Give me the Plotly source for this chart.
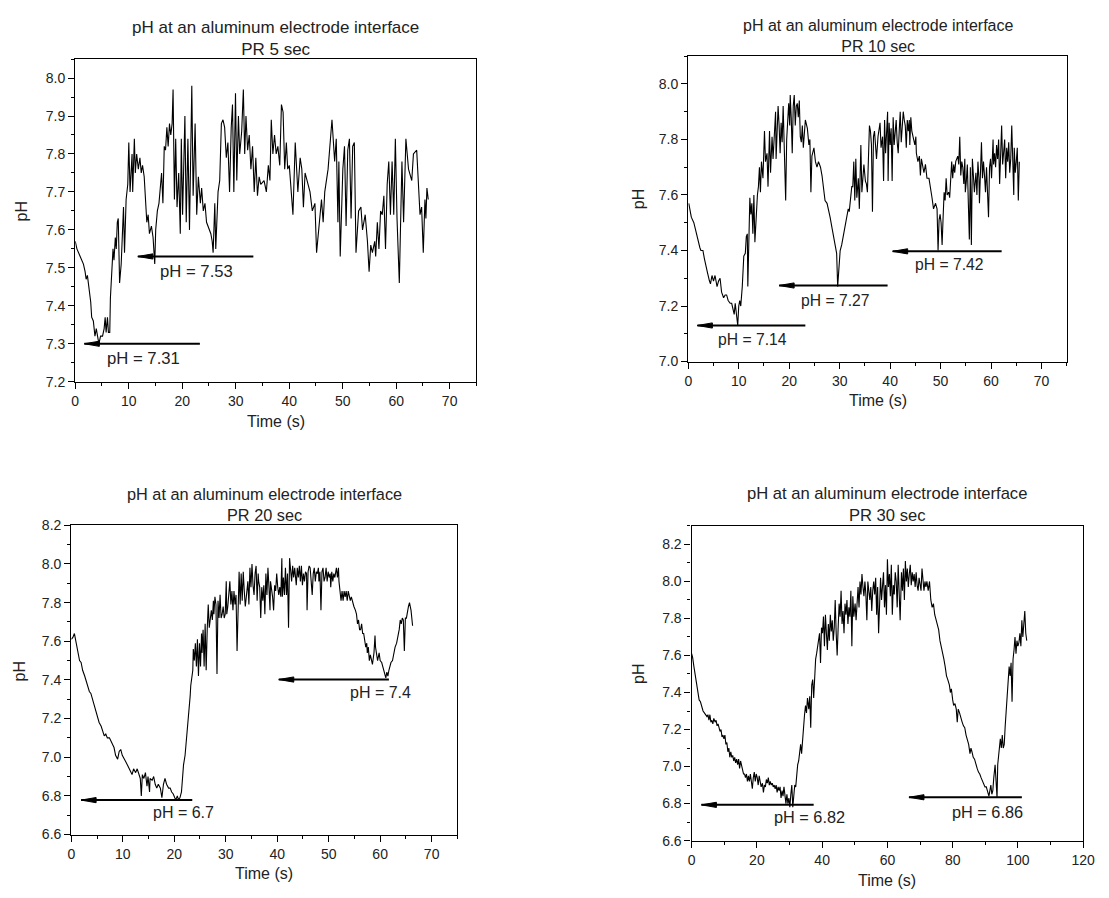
import plotly.graph_objects as go

W, H = 1109, 898
FONT = "Arial, 'Liberation Sans', Helvetica, sans-serif"
TITLE = "pH at an aluminum electrode interface"

# ---------------- PR 5 sec ----------------
t_pr5 = [
    0.00, 0.31, 0.92, 1.53, 1.84, 2.03, 2.27, 2.64, 2.89, 3.07,
    3.38, 3.68, 3.93, 4.17, 4.42, 4.73, 5.10, 5.40, 5.59, 5.77,
    6.02, 6.20, 6.45, 6.57, 6.81, 7.06, 7.24, 7.49, 7.67, 7.86,
    8.04, 8.29, 8.59, 8.78, 9.02, 9.21, 9.51, 9.82, 10.01, 10.25,
    10.62, 10.74, 11.05, 11.23, 11.48, 11.79, 12.09, 12.34, 12.58, 12.89,
    13.20, 13.38, 13.63, 13.87, 14.24, 14.55, 14.86, 15.04, 15.35, 15.65,
    16.14, 16.39, 16.64, 16.88, 17.13, 17.37, 17.62, 17.86, 18.11, 18.29,
    18.54, 18.78, 19.03, 19.34, 19.64, 19.83, 20.07, 20.50, 20.75, 21.06,
    21.36, 21.79, 22.04, 22.41, 22.71, 23.02, 23.39, 23.63, 23.94, 24.25,
    24.55, 24.86, 25.35, 25.60, 25.78, 26.09, 26.27, 26.70, 27.01, 27.32,
    27.62, 27.93, 28.24, 28.54, 28.85, 29.16, 29.40, 29.65, 29.96, 30.20,
    30.51, 30.75, 31.12, 31.43, 31.68, 31.92, 32.23, 32.53, 32.84, 33.15,
    33.46, 33.76, 34.07, 34.38, 34.68, 35.30, 35.73, 36.10, 36.40, 36.65,
    36.95, 37.26, 37.57, 37.88, 38.24, 38.55, 38.86, 39.16, 39.47, 39.72,
    40.02, 40.70, 41.13, 41.62, 42.05, 42.36, 42.66, 42.97, 43.59, 43.89,
    44.32, 44.81, 45.12, 45.73, 46.04, 46.35, 46.65, 47.27, 47.57, 48.00,
    48.50, 48.80, 49.11, 49.29, 49.54, 50.03, 50.34, 50.64, 50.95, 51.26,
    51.57, 51.87, 52.18, 52.49, 52.98, 53.41, 53.71, 54.21, 54.63, 54.94,
    55.25, 55.56, 55.99, 56.17, 56.48, 56.78, 57.09, 57.40, 57.70, 58.01,
    58.32, 58.62, 58.93, 59.24, 59.55, 59.85, 60.16, 60.59, 61.08, 61.39,
    61.82, 62.31, 62.92, 63.23, 63.84, 64.15, 64.46, 64.76, 65.07, 65.38,
    65.56, 65.75, 66.00,
]
ph_pr5 = [
    7.57, 7.55, 7.53, 7.51, 7.49, 7.47, 7.48, 7.44, 7.41, 7.37,
    7.36, 7.32, 7.34, 7.32, 7.30, 7.32, 7.32, 7.34, 7.37, 7.33,
    7.37, 7.33, 7.33, 7.42, 7.47, 7.55, 7.52, 7.58, 7.55, 7.62,
    7.63, 7.46, 7.51, 7.59, 7.66, 7.54, 7.68, 7.72, 7.83, 7.70,
    7.80, 7.70, 7.84, 7.75, 7.80, 7.76, 7.79, 7.75, 7.77, 7.74,
    7.68, 7.62, 7.64, 7.59, 7.61, 7.58, 7.51, 7.60, 7.65, 7.67,
    7.75, 7.67, 7.82, 7.81, 7.87, 7.82, 7.88, 7.85, 7.88, 7.97,
    7.68, 7.84, 7.66, 7.75, 7.59, 7.84, 7.64, 7.90, 7.62, 7.84,
    7.60, 7.98, 7.69, 7.88, 7.64, 7.74, 7.67, 7.71, 7.65, 7.67,
    7.62, 7.61, 7.59, 7.57, 7.54, 7.67, 7.55, 7.70, 7.73, 7.88,
    7.89, 7.87, 7.79, 7.83, 7.70, 7.87, 7.93, 7.70, 7.96, 7.73,
    7.90, 7.80, 7.86, 7.97, 7.80, 7.90, 7.81, 7.85, 7.76, 7.82,
    7.70, 7.79, 7.69, 7.74, 7.72, 7.73, 7.70, 7.77, 7.73, 7.89,
    7.80, 7.85, 7.80, 7.82, 7.77, 7.93, 7.91, 7.76, 7.83, 7.76,
    7.77, 7.64, 7.83, 7.70, 7.79, 7.76, 7.66, 7.75, 7.72, 7.70,
    7.65, 7.67, 7.54, 7.63, 7.68, 7.62, 7.70, 7.76, 7.82, 7.89,
    7.78, 7.84, 7.62, 7.78, 7.53, 7.76, 7.82, 7.61, 7.81, 7.84,
    7.63, 7.82, 7.83, 7.54, 7.65, 7.66, 7.60, 7.64, 7.57, 7.49,
    7.56, 7.54, 7.57, 7.53, 7.62, 7.55, 7.65, 7.64, 7.69, 7.55,
    7.72, 7.78, 7.64, 7.78, 7.64, 7.84, 7.63, 7.46, 7.78, 7.62,
    7.84, 7.76, 7.73, 7.80, 7.81, 7.74, 7.64, 7.66, 7.54, 7.68,
    7.63, 7.71, 7.68,
]
arrow_head_pr5 = [1.7, 11.7]
arrow_tail_pr5 = [23.3, 33.3]
arrow_level_pr5 = [7.30, 7.53]
label_text_pr5 = ["pH = 7.31", "pH = 7.53"]
label_t_pr5 = [12.7, 22.7]
label_ph_pr5 = [7.262, 7.49]

# ---------------- PR 10 sec ----------------
t_pr10 = [
    0.1, 0.6, 1.1, 1.6, 1.9, 2.3, 2.5, 2.9, 3.2, 3.6,
    3.8, 4.2, 4.4, 4.7, 5.0, 5.3, 5.7, 6.0, 6.3, 6.6,
    7.0, 7.3, 7.6, 7.9, 8.3, 8.6, 8.9, 9.1, 9.3, 9.6,
    9.8, 10.0, 10.2, 10.4, 10.7, 11.0, 11.3, 11.5, 11.7, 11.8,
    12.0, 12.2, 12.4, 12.6, 12.8, 13.0, 13.2, 13.5, 13.7, 13.9,
    14.1, 14.3, 14.5, 14.8, 15.1, 15.3, 15.6, 15.8, 16.0, 16.1,
    16.3, 16.5, 16.6, 16.8, 17.0, 17.3, 17.4, 17.6, 17.8, 18.0,
    18.2, 18.4, 18.6, 18.8, 19.1, 19.3, 19.5, 19.7, 19.9, 20.1,
    20.2, 20.4, 20.6, 20.8, 21.0, 21.2, 21.4, 21.6, 21.8, 22.0,
    22.2, 22.4, 22.6, 22.8, 23.0, 23.2, 23.6, 23.9, 24.1, 24.3,
    24.5, 24.9, 25.2, 25.5, 25.8, 26.2, 26.5, 26.8, 27.1, 27.5,
    27.8, 28.1, 28.5, 28.8, 29.1, 29.4, 29.6, 29.9, 30.1, 30.4,
    30.7, 31.1, 31.4, 31.7, 31.9, 32.2, 32.4, 32.6, 32.8, 33.0,
    33.2, 33.4, 33.7, 33.9, 34.1, 34.2, 34.4, 34.6, 34.8, 35.1,
    35.3, 35.5, 35.7, 35.9, 36.1, 36.3, 36.5, 36.7, 36.9, 37.1,
    37.3, 37.6, 37.8, 38.0, 38.2, 38.5, 38.7, 38.9, 39.1, 39.3,
    39.5, 39.6, 39.8, 40.0, 40.2, 40.4, 40.6, 40.8, 41.0, 41.2,
    41.4, 41.6, 41.8, 42.0, 42.2, 42.4, 42.6, 42.8, 43.0, 43.2,
    43.4, 43.6, 43.8, 43.9, 44.1, 44.3, 44.6, 44.9, 45.1, 45.2,
    45.5, 45.8, 46.0, 46.2, 46.4, 46.7, 47.0, 47.3, 47.7, 48.0,
    48.3, 48.6, 49.0, 49.3, 49.5, 49.7, 49.9, 50.1, 50.3, 50.5,
    50.7, 50.9, 51.1, 51.3, 51.6, 51.8, 52.0, 52.2, 52.4, 52.6,
    52.8, 53.0, 53.2, 53.4, 53.6, 53.8, 54.0, 54.2, 54.4, 54.6,
    54.8, 54.9, 55.1, 55.3, 55.5, 55.7, 55.9, 56.1, 56.3, 56.5,
    56.7, 57.0, 57.2, 57.4, 57.6, 57.7, 57.9, 58.1, 58.3, 58.5,
    58.7, 58.9, 59.1, 59.3, 59.5, 59.7, 59.9, 60.1, 60.4, 60.5,
    60.7, 60.9, 61.1, 61.3, 61.5, 61.7, 61.9, 62.1, 62.3, 62.5,
    62.7, 62.9, 63.1, 63.3, 63.5, 63.7, 63.9, 64.1, 64.3, 64.5,
    64.6, 64.8, 65.0, 65.2, 65.4, 65.6,
]
ph_pr10 = [
    7.57, 7.52, 7.50, 7.46, 7.44, 7.41, 7.40, 7.40, 7.37, 7.33,
    7.32, 7.29, 7.28, 7.31, 7.29, 7.31, 7.27, 7.29, 7.30, 7.25,
    7.23, 7.24, 7.24, 7.22, 7.21, 7.21, 7.19, 7.17, 7.21, 7.15,
    7.13, 7.20, 7.22, 7.20, 7.27, 7.38, 7.39, 7.45, 7.46, 7.27,
    7.45, 7.59, 7.53, 7.57, 7.46, 7.60, 7.43, 7.57, 7.60, 7.63,
    7.70, 7.61, 7.72, 7.66, 7.83, 7.72, 7.75, 7.63, 7.78, 7.83,
    7.68, 7.77, 7.81, 7.73, 7.81, 7.90, 7.73, 7.88, 7.92, 7.85,
    7.75, 7.86, 7.79, 7.92, 7.73, 7.58, 7.80, 7.86, 7.93, 7.85,
    7.96, 7.88, 7.75, 7.92, 7.96, 7.85, 7.92, 7.93, 7.88, 7.94,
    7.81, 7.79, 7.85, 7.77, 7.83, 7.87, 7.84, 7.78, 7.80, 7.61,
    7.74, 7.77, 7.72, 7.70, 7.72, 7.70, 7.67, 7.63, 7.58, 7.57,
    7.55, 7.52, 7.48, 7.45, 7.41, 7.39, 7.27, 7.38, 7.40, 7.42,
    7.45, 7.49, 7.51, 7.55, 7.54, 7.60, 7.63, 7.63, 7.72, 7.58,
    7.73, 7.59, 7.66, 7.55, 7.68, 7.78, 7.61, 7.66, 7.71, 7.65,
    7.64, 7.61, 7.77, 7.85, 7.83, 7.78, 7.54, 7.81, 7.83, 7.78,
    7.73, 7.81, 7.83, 7.86, 7.77, 7.81, 7.65, 7.87, 7.75, 7.84,
    7.90, 7.65, 7.86, 7.78, 7.84, 7.65, 7.88, 7.78, 7.83, 7.87,
    7.79, 7.75, 7.83, 7.90, 7.79, 7.86, 7.90, 7.87, 7.85, 7.77,
    7.87, 7.83, 7.87, 7.78, 7.88, 7.83, 7.81, 7.78, 7.81, 7.75,
    7.72, 7.74, 7.67, 7.73, 7.71, 7.68, 7.71, 7.66, 7.66, 7.63,
    7.59, 7.55, 7.57, 7.55, 7.40, 7.51, 7.53, 7.50, 7.42, 7.52,
    7.61, 7.58, 7.66, 7.60, 7.61, 7.59, 7.68, 7.72, 7.66, 7.71,
    7.68, 7.72, 7.73, 7.74, 7.71, 7.81, 7.67, 7.72, 7.70, 7.64,
    7.73, 7.61, 7.65, 7.71, 7.57, 7.44, 7.70, 7.42, 7.73, 7.64,
    7.61, 7.68, 7.60, 7.72, 7.66, 7.57, 7.71, 7.79, 7.66, 7.72,
    7.67, 7.61, 7.70, 7.57, 7.52, 7.70, 7.73, 7.66, 7.80, 7.71,
    7.75, 7.70, 7.78, 7.73, 7.80, 7.64, 7.80, 7.85, 7.71, 7.78,
    7.80, 7.66, 7.77, 7.72, 7.79, 7.68, 7.73, 7.85, 7.66, 7.60,
    7.77, 7.68, 7.72, 7.77, 7.58, 7.72,
]
arrow_head_pr10 = [1.8, 18.0, 40.5]
arrow_tail_pr10 = [23.2, 39.5, 62.1]
arrow_level_pr10 = [7.13, 7.274, 7.397]
label_text_pr10 = ["pH = 7.14", "pH = 7.27", "pH = 7.42"]
label_t_pr10 = [12.8, 29.0, 51.7]
label_ph_pr10 = [7.08, 7.22, 7.348]

# ---------------- PR 20 sec ----------------
t_pr20 = [
    0.0, 0.3, 0.6, 1.0, 1.3, 1.6, 1.9, 2.2, 2.6, 2.9,
    3.2, 3.5, 3.8, 4.2, 4.5, 4.8, 5.1, 5.4, 5.8, 6.1,
    6.4, 6.7, 7.0, 7.4, 7.7, 8.0, 8.3, 8.6, 9.0, 9.3,
    9.6, 9.9, 10.2, 10.5, 10.9, 11.2, 11.5, 11.8, 12.1, 12.5,
    12.8, 13.1, 13.4, 13.6, 13.8, 14.1, 14.4, 14.7, 14.9, 15.2,
    15.3, 15.7, 16.0, 16.3, 16.6, 16.9, 17.3, 17.6, 17.9, 18.2,
    18.5, 18.9, 19.2, 19.5, 19.8, 20.1, 20.3, 20.6, 20.8, 21.1,
    21.4, 21.6, 21.8, 22.1, 22.4, 22.7, 22.9, 23.1, 23.2, 23.4,
    23.6, 23.7, 23.9, 24.1, 24.3, 24.5, 24.7, 24.9, 25.1, 25.3,
    25.4, 25.6, 25.8, 26.0, 26.2, 26.4, 26.6, 26.8, 27.0, 27.2,
    27.4, 27.6, 27.7, 27.9, 28.1, 28.3, 28.5, 28.7, 28.9, 29.1,
    29.3, 29.5, 29.7, 29.9, 30.1, 30.2, 30.4, 30.6, 30.8, 31.0,
    31.2, 31.4, 31.6, 31.8, 32.0, 32.2, 32.4, 32.6, 32.8, 33.0,
    33.2, 33.4, 33.6, 33.8, 34.0, 34.1, 34.3, 34.5, 34.7, 34.9,
    35.1, 35.3, 35.5, 35.7, 35.9, 36.1, 36.3, 36.4, 36.6, 36.8,
    37.0, 37.2, 37.4, 37.6, 37.8, 38.0, 38.2, 38.4, 38.6, 38.7,
    38.9, 39.1, 39.3, 39.5, 39.7, 39.9, 40.1, 40.3, 40.5, 40.7,
    40.9, 41.0, 41.2, 41.4, 41.6, 41.8, 42.0, 42.2, 42.4, 42.6,
    42.8, 43.0, 43.2, 43.4, 43.5, 43.7, 43.9, 44.1, 44.3, 44.5,
    44.7, 44.9, 45.1, 45.3, 45.5, 45.7, 45.8, 46.0, 46.2, 46.4,
    46.6, 46.8, 47.0, 47.2, 47.4, 47.6, 47.8, 48.0, 48.1, 48.3,
    48.5, 48.7, 48.9, 49.1, 49.3, 49.5, 49.7, 49.9, 50.1, 50.3,
    50.4, 50.6, 50.8, 51.0, 51.2, 51.5, 51.7, 51.9, 52.0, 52.2,
    52.4, 52.6, 52.8, 53.0, 53.2, 53.4, 53.6, 53.8, 54.0, 54.2,
    54.4, 54.7, 54.9, 55.2, 55.4, 55.6, 55.8, 56.0, 56.2, 56.4,
    56.6, 56.8, 57.0, 57.2, 57.4, 57.5, 57.7, 57.9, 58.1, 58.3,
    58.5, 58.8, 59.0, 59.1, 59.3, 59.5, 59.8, 60.0, 60.3, 60.5,
    60.7, 60.9, 61.1, 61.3, 61.5, 61.7, 61.9, 62.1, 62.4, 62.7,
    62.9, 63.2, 63.4, 63.6, 63.7, 63.9, 64.1, 64.3, 64.5, 64.7,
    64.9, 65.1, 65.3, 65.5, 65.7, 65.9, 66.0, 66.3,
]
ph_pr20 = [
    7.61, 7.62, 7.64, 7.59, 7.54, 7.50, 7.49, 7.45, 7.42, 7.39,
    7.36, 7.34, 7.33, 7.29, 7.26, 7.23, 7.21, 7.18, 7.16, 7.13,
    7.11, 7.12, 7.10, 7.10, 7.08, 7.06, 7.05, 7.01, 6.99, 7.03,
    7.04, 7.01, 6.99, 6.98, 6.96, 6.94, 6.92, 6.91, 6.94, 6.92,
    6.94, 6.91, 6.89, 6.80, 6.91, 6.89, 6.92, 6.85, 6.90, 6.82,
    6.89, 6.88, 6.90, 6.86, 6.84, 6.86, 6.84, 6.79, 6.86, 6.89,
    6.86, 6.84, 6.84, 6.82, 6.81, 6.79, 6.78, 6.80, 6.78, 6.79,
    6.82, 6.89, 6.96, 7.01, 7.10, 7.16, 7.23, 7.32, 7.37, 7.40,
    7.45, 7.56, 7.50, 7.59, 7.47, 7.61, 7.42, 7.59, 7.47, 7.64,
    7.54, 7.66, 7.47, 7.69, 7.45, 7.66, 7.79, 7.67, 7.72, 7.76,
    7.71, 7.81, 7.74, 7.83, 7.79, 7.43, 7.81, 7.72, 7.84, 7.72,
    7.74, 7.78, 7.72, 7.74, 7.91, 7.74, 7.78, 7.84, 7.91, 7.79,
    7.86, 7.76, 7.86, 7.79, 7.84, 7.55, 7.83, 7.96, 7.79, 7.95,
    7.81, 7.96, 7.86, 7.78, 7.83, 7.88, 7.91, 7.79, 7.98, 7.88,
    8.00, 7.89, 7.84, 7.95, 7.99, 7.81, 7.95, 7.91, 7.88, 7.72,
    7.88, 7.81, 7.89, 7.74, 7.95, 7.84, 7.98, 7.88, 7.76, 7.91,
    7.88, 7.83, 7.76, 7.89, 7.86, 7.95, 7.88, 7.84, 7.88, 7.83,
    8.03, 7.83, 7.93, 7.84, 7.98, 7.84, 7.95, 7.67, 8.03, 7.98,
    7.91, 7.99, 7.93, 7.98, 7.95, 7.89, 7.98, 7.93, 7.99, 7.91,
    7.99, 7.89, 7.95, 7.91, 7.96, 7.95, 7.76, 7.96, 7.99, 7.98,
    7.91, 7.84, 7.95, 7.98, 7.91, 7.96, 7.95, 7.98, 7.91, 7.96,
    7.76, 7.96, 7.98, 7.91, 7.93, 7.98, 7.91, 7.96, 7.93, 7.95,
    7.88, 7.96, 7.91, 7.95, 7.93, 7.98, 7.93, 7.98, 7.91, 7.86,
    7.81, 7.86, 7.81, 7.86, 7.83, 7.86, 7.81, 7.86, 7.84, 7.81,
    7.83, 7.79, 7.78, 7.76, 7.74, 7.69, 7.71, 7.66, 7.66, 7.69,
    7.64, 7.64, 7.59, 7.57, 7.59, 7.54, 7.57, 7.50, 7.53, 7.50,
    7.48, 7.54, 7.63, 7.57, 7.54, 7.50, 7.54, 7.50, 7.49, 7.47,
    7.45, 7.44, 7.41, 7.44, 7.42, 7.45, 7.47, 7.49, 7.50, 7.54,
    7.57, 7.59, 7.62, 7.64, 7.66, 7.71, 7.69, 7.72, 7.71, 7.55,
    7.72, 7.72, 7.76, 7.78, 7.80, 7.78, 7.76, 7.68,
]
arrow_head_pr20 = [1.9, 40.3]
arrow_tail_pr20 = [23.5, 61.7]
arrow_level_pr20 = [6.778, 7.402]
label_text_pr20 = ["pH = 6.7", "pH = 7.4"]
label_t_pr20 = [21.7, 60.1]
label_ph_pr20 = [6.715, 7.335]

# ---------------- PR 30 sec ----------------
t_pr30 = [
    0.0, 0.3, 0.7, 1.1, 1.5, 1.9, 2.3, 2.7, 3.1, 3.5,
    3.9, 4.3, 4.7, 5.0, 5.3, 5.6, 5.9, 6.2, 6.5, 6.8,
    7.2, 7.5, 7.8, 8.1, 8.4, 8.7, 9.0, 9.3, 9.6, 9.9,
    10.2, 10.5, 10.8, 11.1, 11.4, 11.7, 12.0, 12.3, 12.6, 12.9,
    13.2, 13.5, 13.8, 14.1, 14.4, 14.7, 15.0, 15.3, 15.6, 15.9,
    16.2, 16.5, 16.8, 17.1, 17.4, 17.7, 18.0, 18.3, 18.6, 18.9,
    19.2, 19.5, 19.8, 20.1, 20.4, 20.7, 21.0, 21.3, 21.7, 22.0,
    22.3, 22.6, 22.9, 23.2, 23.5, 23.8, 24.1, 24.4, 24.7, 25.0,
    25.3, 25.6, 25.9, 26.2, 26.5, 26.8, 27.1, 27.4, 27.7, 28.0,
    28.3, 28.6, 28.9, 29.2, 29.5, 29.8, 30.1, 30.4, 30.7, 31.0,
    31.3, 31.6, 31.9, 32.2, 32.5, 32.8, 33.1, 33.4, 33.7, 34.0,
    34.3, 34.6, 34.9, 35.2, 35.5, 35.9, 36.2, 36.5, 36.8, 37.1,
    37.4, 37.7, 38.0, 38.3, 38.6, 38.9, 39.2, 39.5, 39.8, 40.1,
    40.4, 40.7, 41.0, 41.3, 41.6, 41.9, 42.2, 42.5, 42.8, 43.1,
    43.4, 43.7, 44.0, 44.3, 44.6, 44.9, 45.2, 45.5, 45.8, 46.1,
    46.4, 46.7, 47.0, 47.3, 47.6, 47.9, 48.2, 48.5, 48.8, 49.1,
    49.4, 49.7, 50.1, 50.4, 50.7, 51.0, 51.3, 51.6, 51.9, 52.2,
    52.5, 52.8, 53.1, 53.4, 53.7, 54.0, 54.3, 54.6, 54.9, 55.2,
    55.5, 55.8, 56.1, 56.4, 56.7, 57.0, 57.3, 57.6, 57.9, 58.2,
    58.5, 58.8, 59.1, 59.4, 59.7, 60.0, 60.3, 60.6, 60.9, 61.2,
    61.5, 61.8, 62.1, 62.4, 62.7, 63.0, 63.3, 63.6, 63.9, 64.3,
    64.6, 64.9, 65.2, 65.5, 65.8, 66.1, 66.4, 66.7, 67.0, 67.3,
    67.6, 67.9, 68.2, 68.5, 68.8, 69.1, 69.4, 69.7, 70.0, 70.3,
    70.6, 70.9, 71.2, 71.5, 71.8, 72.1, 72.5, 72.9, 73.3, 73.7,
    74.1, 74.5, 74.9, 75.3, 75.7, 76.1, 76.5, 76.9, 77.3, 77.7,
    78.1, 78.5, 79.0, 79.3, 79.6, 80.0, 80.3, 80.7, 81.1, 81.4,
    81.7, 82.1, 82.5, 82.9, 83.3, 83.7, 84.1, 84.5, 84.9, 85.3,
    85.6, 85.9, 86.3, 86.7, 87.1, 87.5, 87.9, 88.3, 88.7, 89.1,
    89.5, 89.9, 90.3, 90.7, 91.1, 91.4, 91.7, 92.0, 92.3, 92.6,
    93.0, 93.3, 93.6, 93.8, 94.0, 94.3, 94.6, 94.9, 95.2, 95.5,
    95.8, 96.1, 96.4, 96.7, 97.0, 97.3, 97.6, 97.9, 98.2, 98.5,
    98.8, 99.1, 99.4, 99.7, 100.0, 100.3, 100.6, 100.9, 101.2, 101.5,
    101.8, 102.1, 102.4, 102.7,
]
ph_pr30 = [
    7.61, 7.59, 7.54, 7.49, 7.44, 7.40, 7.36, 7.35, 7.32, 7.30,
    7.29, 7.28, 7.27, 7.28, 7.25, 7.28, 7.24, 7.25, 7.23, 7.26,
    7.24, 7.25, 7.22, 7.23, 7.21, 7.19, 7.20, 7.16, 7.17, 7.15,
    7.17, 7.12, 7.13, 7.08, 7.10, 7.05, 7.08, 7.05, 7.06, 7.03,
    7.05, 7.02, 7.04, 7.01, 7.04, 6.99, 7.03, 7.00, 6.98, 6.96,
    6.96, 6.94, 6.96, 6.92, 6.95, 6.92, 6.96, 6.91, 6.88, 6.94,
    6.97, 6.92, 6.96, 6.94, 6.90, 6.95, 6.92, 6.89, 6.91, 6.86,
    6.90, 6.89, 6.93, 6.91, 6.94, 6.90, 6.92, 6.90, 6.91, 6.89,
    6.90, 6.88, 6.90, 6.86, 6.89, 6.87, 6.89, 6.83, 6.87, 6.84,
    6.89, 6.83, 6.80, 6.85, 6.80, 6.83, 6.78, 6.85, 6.90, 6.78,
    6.87, 6.90, 6.89, 6.96, 7.01, 7.03, 7.08, 7.12, 7.07, 7.15,
    7.22, 7.28, 7.33, 7.29, 7.37, 7.31, 7.38, 7.21, 7.44, 7.47,
    7.37, 7.51, 7.58, 7.61, 7.65, 7.68, 7.72, 7.56, 7.75, 7.72,
    7.81, 7.65, 7.82, 7.72, 7.63, 7.77, 7.68, 7.82, 7.73, 7.79,
    7.68, 7.75, 7.90, 7.72, 7.60, 7.75, 7.88, 7.81, 7.95, 7.77,
    7.84, 7.72, 7.88, 7.82, 7.90, 7.77, 7.86, 7.81, 7.95, 7.65,
    7.92, 7.81, 7.88, 7.79, 7.90, 7.97, 7.86, 8.00, 7.93, 8.04,
    7.97, 7.92, 8.00, 7.93, 7.79, 8.00, 7.95, 7.90, 7.97, 7.84,
    7.95, 8.00, 7.93, 8.02, 7.82, 7.97, 7.72, 7.93, 8.02, 7.90,
    7.97, 8.05, 7.86, 7.98, 7.82, 8.12, 7.97, 8.04, 7.92, 8.09,
    7.82, 7.98, 7.93, 8.05, 8.00, 7.86, 8.09, 7.98, 7.79, 8.05,
    7.95, 8.07, 7.90, 8.11, 8.00, 8.07, 7.97, 8.04, 8.09, 7.98,
    8.05, 8.00, 8.04, 7.97, 8.05, 7.98, 7.95, 8.02, 7.98, 7.95,
    8.07, 8.00, 7.95, 8.00, 7.97, 8.00, 7.95, 8.00, 7.90, 7.86,
    7.88, 7.82, 7.79, 7.77, 7.74, 7.68, 7.65, 7.61, 7.58, 7.54,
    7.49, 7.47, 7.44, 7.40, 7.42, 7.36, 7.33, 7.34, 7.31, 7.24,
    7.31, 7.29, 7.26, 7.24, 7.22, 7.21, 7.17, 7.15, 7.12, 7.07,
    7.10, 7.08, 7.05, 7.04, 7.01, 6.99, 6.97, 6.96, 6.94, 6.92,
    6.90, 6.89, 6.89, 6.86, 6.84, 6.87, 6.90, 6.85, 6.87, 6.94,
    7.01, 6.92, 6.83, 7.01, 7.05, 7.12, 7.15, 7.10, 7.17, 7.10,
    7.12, 7.22, 7.31, 7.40, 7.47, 7.54, 7.49, 7.56, 7.35, 7.58,
    7.63, 7.70, 7.61, 7.68, 7.65, 7.67, 7.72, 7.65, 7.79, 7.70,
    7.77, 7.84, 7.72, 7.68,
]
arrow_head_pr30 = [3.0, 66.6]
arrow_tail_pr30 = [37.4, 101.2]
arrow_level_pr30 = [6.793, 6.834]
label_text_pr30 = ["pH = 6.82", "pH = 6.86"]
label_t_pr30 = [36.2, 90.8]
label_ph_pr30 = [6.727, 6.754]

# Panel layout: plot-area box in pixels (left, top, right, bottom), axis setup, text sizes
panels = [
    dict(sub="PR 5 sec", t=t_pr5, ph=ph_pr5,
         heads=arrow_head_pr5, tails=arrow_tail_pr5, levels=arrow_level_pr5,
         ltxt=label_text_pr5, lt=label_t_pr5, lph=label_ph_pr5,
         box=(72.3, 52.0, 479.3, 380.5), xr=[0, 75], yr=[7.2, 8.05],
         xd=10, xm=5, yd=0.1, ym=0.05,
         title_y=31.2, ylab=(17.7, 206.7), xlab_y=420.5, fs=17),
    dict(sub="PR 10 sec", t=t_pr10, ph=ph_pr10,
         heads=arrow_head_pr10, tails=arrow_tail_pr10, levels=arrow_level_pr10,
         ltxt=label_text_pr10, lt=label_t_pr10, lph=label_ph_pr10,
         box=(694.3, 49.0, 1078.3, 360.0), xr=[0, 75], yr=[7.0, 8.1],
         xd=10, xm=5, yd=0.2, ym=0.1,
         title_y=28.3, ylab=(644.0, 195.0), xlab_y=400.0, fs=16),
    dict(sub="PR 20 sec", t=t_pr20, ph=ph_pr20,
         heads=arrow_head_pr20, tails=arrow_tail_pr20, levels=arrow_level_pr20,
         ltxt=label_text_pr20, lt=label_t_pr20, lph=label_ph_pr20,
         box=(68.3, 526.7, 460.0, 841.5), xr=[0, 75], yr=[6.6, 8.2],
         xd=10, xm=5, yd=0.2, ym=0.1,
         title_y=505.7, ylab=(15.7, 675.0), xlab_y=881.0, fs=16.3),
    dict(sub="PR 30 sec", t=t_pr30, ph=ph_pr30,
         heads=arrow_head_pr30, tails=arrow_tail_pr30, levels=arrow_level_pr30,
         ltxt=label_text_pr30, lt=label_t_pr30, lph=label_ph_pr30,
         box=(697.7, 527.3, 1095.0, 847.7), xr=[0, 120], yr=[6.6, 8.3],
         xd=20, xm=10, yd=0.2, ym=0.1,
         title_y=505.9, ylab=(644.0, 678.3), xlab_y=888.0, fs=16.6),
]


def fx(p):
    return p / W


def fy(p):
    return 1 - p / H


fig = go.Figure()
annotations = []
shapes = []
layout_axes = {}

for i, p in enumerate(panels, start=1):
    sfx = "" if i == 1 else str(i)
    xref, yref = f"x{sfx}", f"y{sfx}"
    left, top, right, bottom = p["box"]

    fig.add_trace(go.Scatter(
        x=p["t"], y=p["ph"], mode="lines",
        line=dict(color="black", width=1.1),
        xaxis=xref, yaxis=yref, showlegend=False, hoverinfo="skip",
    ))

    common = dict(
        showline=True, linecolor="black", linewidth=1.4, mirror=True,
        ticks="outside", ticklen=6, tickwidth=1.2, tickcolor="black",
        showgrid=False, zeroline=False,
        tickfont=dict(family=FONT, size=14, color="#222"),
    )
    layout_axes[f"xaxis{sfx}"] = dict(
        common, domain=[fx(left), fx(right)], range=p["xr"], anchor=yref,
        tick0=0, dtick=p["xd"],
        minor=dict(ticks="outside", ticklen=3, tickwidth=1, tickcolor="black",
                   dtick=p["xm"], tick0=0, showgrid=False),
    )
    layout_axes[f"yaxis{sfx}"] = dict(
        common, domain=[fy(bottom), fy(top)], range=p["yr"], anchor=xref,
        tick0=p["yr"][0], dtick=p["yd"], tickformat=".1f",
        minor=dict(ticks="outside", ticklen=3, tickwidth=1, tickcolor="black",
                   dtick=p["ym"], tick0=p["yr"][0], showgrid=False),
    )

    cx = (left + right) / 2
    annotations.append(dict(
        text=f"{TITLE}<br>{p['sub']}", xref="paper", yref="paper",
        x=fx(cx), y=fy(p["title_y"]), xanchor="center", yanchor="middle",
        showarrow=False, font=dict(family=FONT, size=p["fs"], color="#222"),
    ))
    annotations.append(dict(
        text="Time (s)", xref="paper", yref="paper",
        x=fx(cx), y=fy(p["xlab_y"]), xanchor="center", yanchor="middle",
        showarrow=False, font=dict(family=FONT, size=16, color="#222"),
    ))
    annotations.append(dict(
        text="pH", xref="paper", yref="paper", textangle=-90,
        x=fx(p["ylab"][0]), y=fy(p["ylab"][1]), xanchor="center", yanchor="middle",
        showarrow=False, font=dict(family=FONT, size=16, color="#222"),
    ))

    # Level arrows pointing at the pH minima, with their value labels
    for head, tail, lvl, txt, lt, lph in zip(p["heads"], p["tails"], p["levels"],
                                             p["ltxt"], p["lt"], p["lph"]):
        shapes.append(dict(
            type="line", xref=xref, yref=yref, x0=tail, x1=head, y0=lvl, y1=lvl,
            line=dict(color="black", width=2),
        ))
        shapes.append(dict(
            type="path", xref=xref, yref=yref,
            xsizemode="pixel", ysizemode="pixel", xanchor=head, yanchor=lvl,
            path="M0,0 L15,2.6 L15,-2.6 Z",
            fillcolor="black", line=dict(color="black", width=1),
        ))
        annotations.append(dict(
            text=txt, xref=xref, yref=yref, x=lt, y=lph,
            xanchor="center", yanchor="middle", showarrow=False,
            font=dict(family=FONT, size=p["fs"] - 0.3, color="#222"),
        ))

fig.update_layout(
    width=W, height=H,
    margin=dict(l=0, r=0, t=0, b=0),
    paper_bgcolor="white", plot_bgcolor="white",
    font=dict(family=FONT, color="#222"),
    annotations=annotations, shapes=shapes,
    showlegend=False,
    **layout_axes,
)

fig.write_html("out.html")
